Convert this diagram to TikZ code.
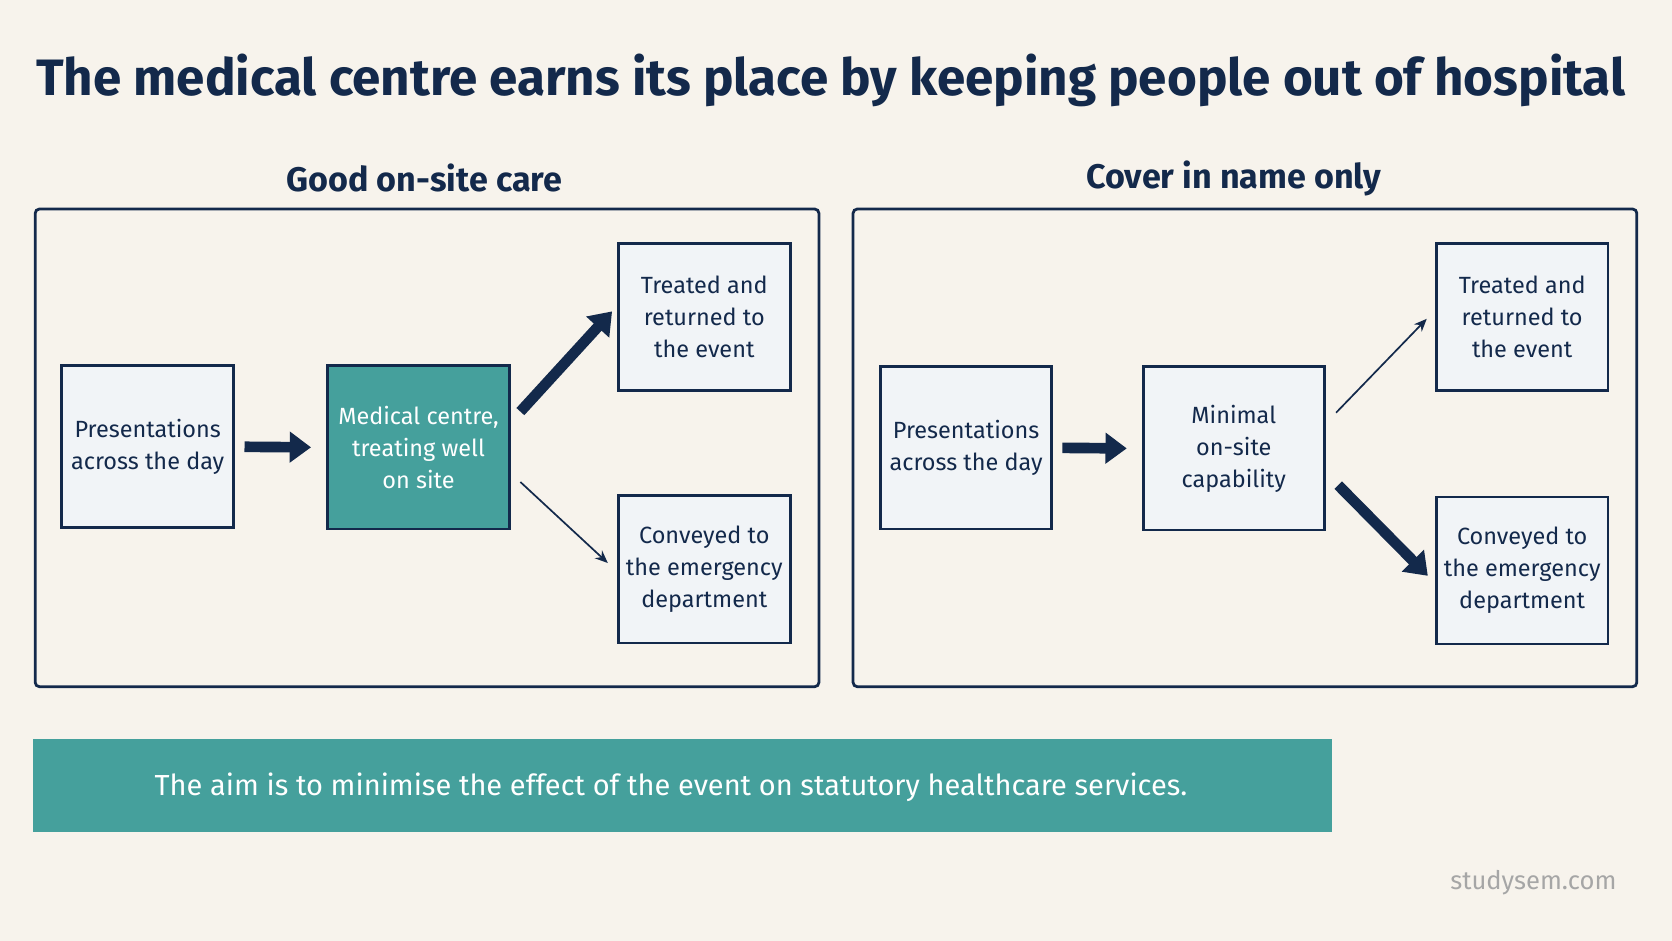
\documentclass[tikz,border=0pt]{standalone}
\usepackage{fontspec}
\setmainfont{Fira Sans}
\usetikzlibrary{arrows.meta}
\definecolor{navy}{HTML}{13294B}
\definecolor{teal}{HTML}{45A09C}
\definecolor{bg}{HTML}{F7F3EC}
\definecolor{boxf}{HTML}{F1F4F7}
\begin{document}
\begin{tikzpicture}[x=0.5pt,y=-0.5pt,
  box/.style={draw=navy,line width=1.3pt,fill=boxf,align=center,text=navy,font=\fontsize{11}{15}\selectfont,inner sep=0pt},
  panel/.style={draw=navy,line width=1.3pt,rounded corners=2pt},
  sub/.style={text=navy,font=\fontsize{16}{20}\selectfont\bfseries},
  big/.style={navy,line width=5pt,-{Triangle[length=10pt,width=14pt]}},
  thin/.style={navy,line width=0.8pt,-{Stealth[length=6pt,width=5pt]}}]
\useasboundingbox (0,0) rectangle (1568,882);
\fill[bg] (0,0) rectangle (1568,882);
\node[text=navy,font=\fontsize{24}{30}\selectfont\bfseries] (title) at (779,75) {The medical centre earns its place by keeping people out of hospital};
\node[sub] (s1) at (398,167) {Good on-site care};
\node[sub] (s2) at (1157,167) {Cover in name only};
\draw[panel] (33,196) rectangle (768,644);
\draw[panel] (800,196) rectangle (1535,644);
% left
\node[box,minimum width=80.5pt,minimum height=76pt] (p1) at (138.5,419) {Presentations\\across the day};
\node[box,fill=teal,text=white,minimum width=85.5pt,minimum height=76.5pt] (m1) at (392.5,419.5) {Medical centre,\\treating well\\on site};
\node[box,minimum width=80.5pt,minimum height=69pt] (t1) at (660.5,297) {Treated and\\returned to\\the event};
\node[box,minimum width=80.5pt,minimum height=69pt] (c1) at (660.5,534) {Conveyed to\\the emergency\\department};
\coordinate (a1s) at (488,386); \coordinate (a1e) at (574,292);
\coordinate (b1s) at (488,452); \coordinate (b1e) at (570,528);
\draw[big] (p1.east) ++(9,0) -- ([xshift=-7pt]m1.west);
\draw[big] (a1s) -- (a1e);
\draw[thin] (b1s) -- (b1e);
% right
\node[box,minimum width=80pt,minimum height=76pt] (p2) at (906,420) {Presentations\\across the day};
\node[box,minimum width=85pt,minimum height=76.5pt] (m2) at (1157,420.5) {Minimal\\on-site\\capability};
\node[box,minimum width=80.5pt,minimum height=69pt] (t2) at (1427.5,297) {Treated and\\returned to\\the event};
\node[box,minimum width=80.5pt,minimum height=69pt] (c2) at (1427.5,535) {Conveyed to\\the emergency\\department};
\coordinate (a2s) at (1253,387); \coordinate (a2e) at (1338,299);
\coordinate (b2s) at (1255,455); \coordinate (b2e) at (1339,540);
\draw[big] (p2.east) ++(9,0) -- ([xshift=-7pt]m2.west);
\draw[thin] (a2s) -- (a2e);
\draw[big] (b2s) -- (b2e);
% banner
\fill[teal] (31,693) rectangle (1249,780);
\node[anchor=west,text=white,font=\fontsize{13.6}{16}\selectfont] (ban) at (138,738) {The aim is to minimise the effect of the event on statutory healthcare services.};
\node[text=gray!70,font=\fontsize{12}{14}\selectfont] (ws) at (1438,828) {studysem.com};
\end{tikzpicture}
\end{document}
